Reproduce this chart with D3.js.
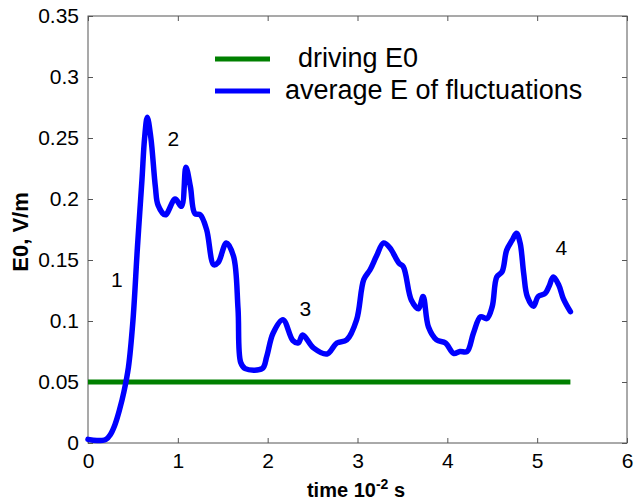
<!DOCTYPE html>
<html><head><meta charset="utf-8">
<script src="https://cdn.jsdelivr.net/npm/d3@7"></script>
<style>body{margin:0;background:#fff}svg{display:block}text{font-family:"Liberation Sans",Arial,sans-serif}</style>
</head><body>
<script>
const timeValues = [0,0.1,0.2,0.25,0.3,0.35,0.4,0.45,0.5,0.55,0.6,0.63,0.66,0.7,0.75,0.78,0.86,0.97,1.04,1.09,1.14,1.19,1.25,1.32,1.4,1.45,1.54,1.62,1.67,1.7,1.75,1.94,1.99,2.06,2.17,2.28,2.34,2.39,2.51,2.66,2.77,2.88,2.99,3.07,3.14,3.21,3.29,3.36,3.46,3.51,3.6,3.68,3.73,3.79,3.88,3.98,4.07,4.14,4.22,4.29,4.37,4.44,4.5,4.55,4.61,4.66,4.72,4.77,4.81,4.85,4.89,4.96,5.01,5.09,5.13,5.18,5.24,5.29,5.37];
const avgE = [0.003,0.002,0.003,0.007,0.015,0.027,0.042,0.062,0.1,0.16,0.215,0.25,0.267,0.25,0.21,0.195,0.187,0.2,0.194,0.226,0.21,0.188,0.187,0.175,0.146,0.148,0.164,0.153,0.11,0.066,0.061,0.061,0.071,0.09,0.101,0.084,0.082,0.0885,0.078,0.073,0.082,0.0845,0.101,0.134,0.142,0.153,0.164,0.16,0.1475,0.1445,0.117,0.11,0.12,0.095,0.0845,0.082,0.0735,0.075,0.075,0.09,0.1035,0.102,0.112,0.136,0.1405,0.158,0.166,0.172,0.164,0.139,0.12,0.112,0.12,0.1227,0.128,0.136,0.1295,0.1186,0.1076];
const drivingTime = [0,5.37];
const drivingE = [0.05,0.05];
const xTicks = [0,1,2,3,4,5,6];
const yTicks = [0,0.05,0.1,0.15,0.2,0.25,0.3,0.35];
const yTickLabels = ["0","0.05","0.1","0.15","0.2","0.25","0.3","0.35"];
const annotations = [{t:0.32,v:0.134,label:"1"},{t:0.95,v:0.25,label:"2"},{t:2.42,v:0.11,label:"3"},{t:5.27,v:0.16,label:"4"}];
const legendLabels = ["driving E0","average E of fluctuations"];
const colors = ["#008000","#0000ff"];

const W=638,H=502, L=88, R=627, T=16, B=443;
const svg=d3.select("body").append("svg").attr("width",W).attr("height",H);
const x=d3.scaleLinear().domain([0,6]).range([L,R]);
const y=d3.scaleLinear().domain([0,0.35]).range([B,T]);
const axCol="#555";
const fs=21;

svg.append("rect").attr("x",L).attr("y",T).attr("width",R-L).attr("height",B-T).attr("fill","none").attr("stroke",axCol).attr("stroke-width",1);

const ax=svg.append("g").attr("transform",`translate(0,${B})`).call(d3.axisBottom(x).tickValues(xTicks).tickSize(-5).tickPadding(10).tickFormat(d3.format("d")));
const ay=svg.append("g").attr("transform",`translate(${L},0)`).call(d3.axisLeft(y).tickValues(yTicks).tickSize(-5).tickPadding(9).tickFormat((d,i)=>yTickLabels[i]));
const axT=svg.append("g").attr("transform",`translate(0,${T})`).call(d3.axisTop(x).tickValues(xTicks).tickSize(-5).tickFormat(""));
const ayR=svg.append("g").attr("transform",`translate(${R},0)`).call(d3.axisRight(y).tickValues(yTicks).tickSize(-5).tickFormat(""));
[ax,ay,axT,ayR].forEach(g=>{g.select(".domain").remove();g.selectAll("line").attr("stroke",axCol);g.selectAll("text").attr("fill","#000").style("font-size",fs+"px").style("font-family","'Liberation Sans',Arial,sans-serif");});

const line=d3.line().x(d=>x(d[0])).y(d=>y(d[1])).curve(d3.curveCatmullRom.alpha(0.5));
svg.append("path").datum(drivingTime.map((t,i)=>[t,drivingE[i]])).attr("d",d3.line().x(d=>x(d[0])).y(d=>y(d[1]))).attr("fill","none").attr("stroke",colors[0]).attr("stroke-width",5);
svg.append("path").datum(timeValues.map((t,i)=>[t,avgE[i]])).attr("d",line).attr("fill","none").attr("stroke",colors[1]).attr("stroke-width",5.5).attr("stroke-linejoin","round").attr("stroke-linecap","round");

svg.selectAll(".ann").data(annotations).join("text").attr("x",d=>x(d.t)).attr("y",d=>y(d.v)).attr("text-anchor","middle").attr("dominant-baseline","central").style("font-size",fs+"px").text(d=>d.label);

// legend
const lg=svg.append("g");
[[59,298,67],[91,285,99]].forEach((p,i)=>{
  lg.append("line").attr("x1",215).attr("x2",270).attr("y1",p[0]).attr("y2",p[0]).attr("stroke",colors[i]).attr("stroke-width",5);
  lg.append("text").attr("x",p[1]).attr("y",p[2]).style("font-size","27px").text(legendLabels[i]);
});

// axis titles
const xt=svg.append("text").attr("x",356).attr("y",497).attr("text-anchor","middle").style("font-size","20px").style("font-weight","bold");
xt.append("tspan").text("time 10");
xt.append("tspan").attr("dy",-8).style("font-size","14px").text("-2");
xt.append("tspan").attr("dy",8).text(" s");
svg.append("text").attr("transform",`translate(28,232) rotate(-90)`).attr("text-anchor","middle").style("font-size","22px").style("font-weight","bold").text("E0, V/m");
</script>
</body></html>
